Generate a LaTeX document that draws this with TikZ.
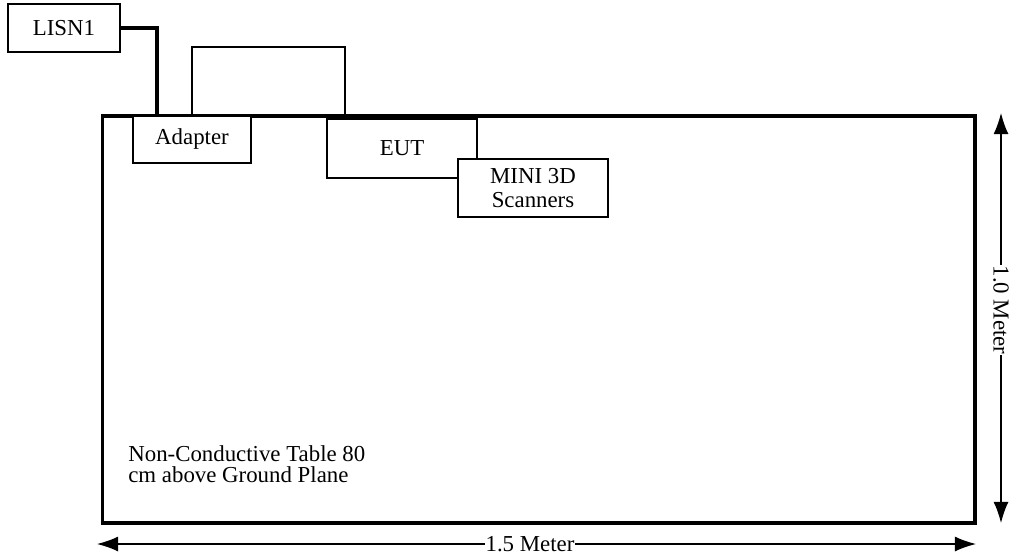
\documentclass[tikz,border=0pt]{standalone}
\usepackage{fontspec}
\setmainfont{Liberation Serif}
\usetikzlibrary{arrows.meta}
\begin{document}
\begin{tikzpicture}[
    x=0.02cm, y=-0.02cm,
    font=\fontsize{13}{14}\selectfont,
    caja/.style={draw, line width=0.7pt, fill=white, inner sep=0pt, align=center},
    mesa/.style={draw, line width=1.8pt, inner sep=0pt},
    cable/.style={line width=0.7pt},
    cablegrueso/.style={line width=2.3pt},
    cota/.style={line width=0.7pt, {Latex[length=12pt,width=8.5pt]}-{Latex[length=12pt,width=8.5pt]}},
    rotulo/.style={fill=white, inner sep=0.5pt}]

  \useasboundingbox (0,0) rectangle (1014,555);

  %% ============================== table ====================================
  \node[mesa, minimum width=17.46cm, minimum height=8.14cm] (mesa) at (538.5,319.5) {};
  \node[anchor=north west, align=left, inner sep=0pt,
        font=\fontsize{13}{12}\selectfont] (nota) at (128,445)
    {Non-Conductive Table 80\\cm above Ground Plane};

  %% ============================== devices ==================================
  \node[caja, minimum width=2.24cm, minimum height=0.96cm] (lisn) at (64,28) {LISN1};
  \node[caja, minimum width=2.36cm, minimum height=0.94cm] (adaptador) at (192,139.5) {Adapter};
  \node[caja, minimum width=3.00cm, minimum height=1.18cm] (eut) at (402,148.5) {EUT};
  \node[caja, minimum width=3.00cm, minimum height=1.16cm] (escaner) at (533,188) {MINI 3D\\Scanners};

  %% ============================== cables ===================================
  \draw[cablegrueso] (lisn.east) -| (adaptador.north -| 157,0);
  \draw[cable] (adaptador.north) |- (270,47) -| (eut.north -| 345,0);

  %% ============================ dimensions =================================
  \coordinate (v1) at (1001,113);
  \coordinate (v2) at (1001,523);
  \coordinate (h1) at (97,544);
  \coordinate (h2) at (976,544);
  \draw[cota] (v1) -- (v2);
  \draw[cota] (h1) -- (h2);
  \node[rotulo, rotate=-90] (alto) at (1001,310) {1.0 Meter};
  \node[rotulo] (ancho) at (530,544) {1.5 Meter};

\end{tikzpicture}
\end{document}
